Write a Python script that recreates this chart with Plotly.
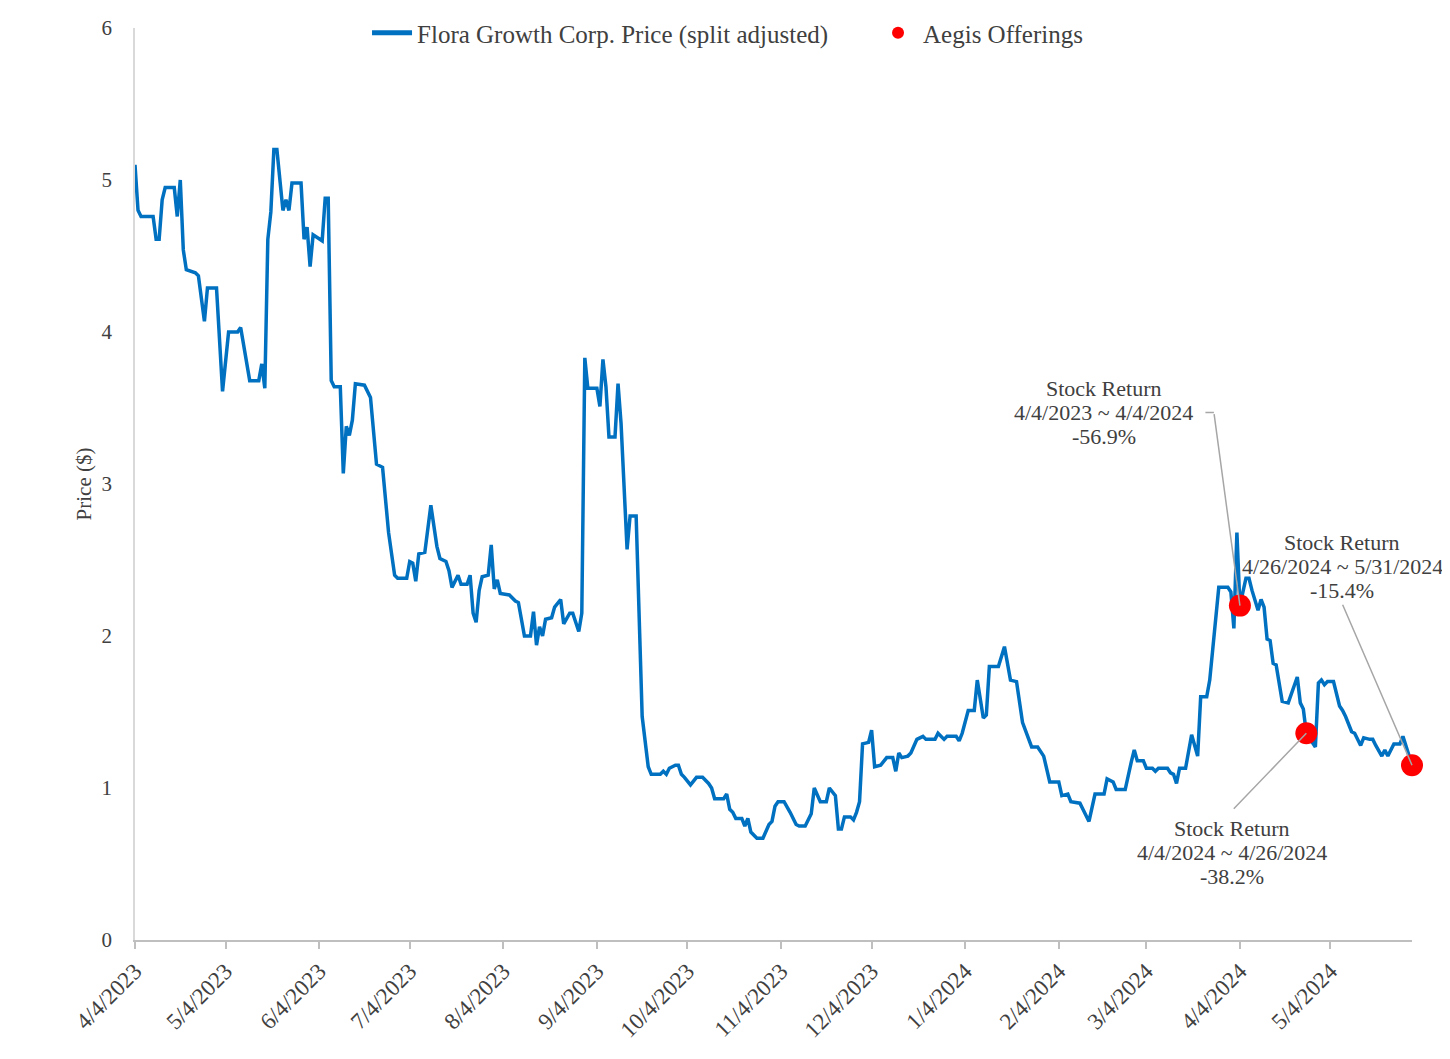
import plotly.graph_objects as go

# ---------------- data ----------------
dates = [
    "2023-04-04", "2023-04-05", "2023-04-06", "2023-04-10", "2023-04-11", "2023-04-12", "2023-04-13",
    "2023-04-14", "2023-04-17", "2023-04-18", "2023-04-19", "2023-04-20", "2023-04-21", "2023-04-24",
    "2023-04-25", "2023-04-27", "2023-04-28", "2023-05-01", "2023-05-03", "2023-05-05", "2023-05-08",
    "2023-05-09", "2023-05-12", "2023-05-15", "2023-05-16", "2023-05-17", "2023-05-18", "2023-05-19",
    "2023-05-20", "2023-05-21", "2023-05-23", "2023-05-24", "2023-05-25", "2023-05-26", "2023-05-29",
    "2023-05-30", "2023-05-31", "2023-06-01", "2023-06-02", "2023-06-05", "2023-06-06", "2023-06-07",
    "2023-06-08", "2023-06-09", "2023-06-11", "2023-06-12", "2023-06-13", "2023-06-14", "2023-06-15",
    "2023-06-16", "2023-06-19", "2023-06-21", "2023-06-23", "2023-06-25", "2023-06-27", "2023-06-29",
    "2023-06-30", "2023-07-03", "2023-07-04", "2023-07-05", "2023-07-06", "2023-07-07", "2023-07-09",
    "2023-07-10", "2023-07-11", "2023-07-13", "2023-07-14", "2023-07-16", "2023-07-17", "2023-07-18",
    "2023-07-20", "2023-07-21", "2023-07-23", "2023-07-24", "2023-07-25", "2023-07-26", "2023-07-27",
    "2023-07-28", "2023-07-30", "2023-07-31", "2023-08-01", "2023-08-02", "2023-08-03", "2023-08-06",
    "2023-08-08", "2023-08-09", "2023-08-11", "2023-08-13", "2023-08-14", "2023-08-15", "2023-08-16",
    "2023-08-17", "2023-08-18", "2023-08-20", "2023-08-21", "2023-08-23", "2023-08-24", "2023-08-26",
    "2023-08-27", "2023-08-29", "2023-08-30", "2023-08-31", "2023-09-01", "2023-09-04", "2023-09-05",
    "2023-09-06", "2023-09-07", "2023-09-08", "2023-09-10", "2023-09-11", "2023-09-12", "2023-09-14",
    "2023-09-15", "2023-09-17", "2023-09-19", "2023-09-21", "2023-09-22", "2023-09-25", "2023-09-26",
    "2023-09-27", "2023-09-28", "2023-09-30", "2023-10-01", "2023-10-02", "2023-10-03", "2023-10-05",
    "2023-10-07", "2023-10-09", "2023-10-11", "2023-10-12", "2023-10-13", "2023-10-16", "2023-10-17",
    "2023-10-18", "2023-10-19", "2023-10-20", "2023-10-22", "2023-10-23", "2023-10-24", "2023-10-25",
    "2023-10-27", "2023-10-29", "2023-10-31", "2023-11-01", "2023-11-02", "2023-11-03", "2023-11-05",
    "2023-11-07", "2023-11-09", "2023-11-10", "2023-11-12", "2023-11-14", "2023-11-15", "2023-11-17",
    "2023-11-19", "2023-11-20", "2023-11-22", "2023-11-23", "2023-11-24", "2023-11-25", "2023-11-27",
    "2023-11-28", "2023-11-29", "2023-11-30", "2023-12-01", "2023-12-03", "2023-12-04", "2023-12-05",
    "2023-12-07", "2023-12-09", "2023-12-11", "2023-12-12", "2023-12-13", "2023-12-14", "2023-12-16",
    "2023-12-17", "2023-12-19", "2023-12-20", "2023-12-21", "2023-12-22", "2023-12-25", "2023-12-26",
    "2023-12-28", "2023-12-29", "2024-01-01", "2024-01-02", "2024-01-03", "2024-01-05", "2024-01-07",
    "2024-01-08", "2024-01-10", "2024-01-11", "2024-01-12", "2024-01-15", "2024-01-17", "2024-01-19",
    "2024-01-21", "2024-01-23", "2024-01-24", "2024-01-26", "2024-01-28", "2024-01-30", "2024-02-01",
    "2024-02-04", "2024-02-05", "2024-02-07", "2024-02-08", "2024-02-11", "2024-02-12", "2024-02-14",
    "2024-02-16", "2024-02-19", "2024-02-20", "2024-02-22", "2024-02-23", "2024-02-26", "2024-02-28",
    "2024-02-29", "2024-03-01", "2024-03-03", "2024-03-04", "2024-03-06", "2024-03-07", "2024-03-08",
    "2024-03-11", "2024-03-12", "2024-03-13", "2024-03-14", "2024-03-15", "2024-03-17", "2024-03-19",
    "2024-03-20", "2024-03-21", "2024-03-22", "2024-03-24", "2024-03-25", "2024-03-27", "2024-03-28",
    "2024-03-31", "2024-04-01", "2024-04-02", "2024-04-03", "2024-04-04", "2024-04-06", "2024-04-07",
    "2024-04-08", "2024-04-10", "2024-04-11", "2024-04-12", "2024-04-13", "2024-04-14", "2024-04-15",
    "2024-04-16", "2024-04-18", "2024-04-20", "2024-04-22", "2024-04-23", "2024-04-24", "2024-04-25",
    "2024-04-26", "2024-04-29", "2024-04-30", "2024-05-01", "2024-05-02", "2024-05-03", "2024-05-05",
    "2024-05-07", "2024-05-08", "2024-05-09", "2024-05-11", "2024-05-12", "2024-05-14", "2024-05-15",
    "2024-05-17", "2024-05-18", "2024-05-19", "2024-05-21", "2024-05-22", "2024-05-23", "2024-05-25",
    "2024-05-27", "2024-05-28", "2024-05-29", "2024-05-30", "2024-05-31",
]

prices = [
    5.10, 4.80, 4.76, 4.76, 4.61, 4.61, 4.87,
    4.95, 4.95, 4.76, 5.00, 4.54, 4.41, 4.39,
    4.37, 4.07, 4.29, 4.29, 3.61, 4.00, 4.00,
    4.03, 3.68, 3.68, 3.79, 3.63, 4.61, 4.79,
    5.20, 5.20, 4.80, 4.87, 4.80, 4.98, 4.98,
    4.61, 4.69, 4.43, 4.64, 4.60, 4.88, 4.88,
    3.68, 3.64, 3.64, 3.07, 3.38, 3.32, 3.42,
    3.66, 3.65, 3.57, 3.13, 3.11, 2.68, 2.40,
    2.38, 2.38, 2.49, 2.48, 2.36, 2.54, 2.55,
    2.72, 2.86, 2.59, 2.51, 2.49, 2.43, 2.32,
    2.40, 2.34, 2.34, 2.40, 2.15, 2.09, 2.30,
    2.39, 2.40, 2.60, 2.31, 2.37, 2.28, 2.27,
    2.23, 2.22, 2.00, 2.00, 2.16, 1.94, 2.06,
    2.00, 2.11, 2.12, 2.19, 2.24, 2.08, 2.15,
    2.15, 2.03, 2.15, 3.83, 3.63, 3.63, 3.51,
    3.82, 3.64, 3.31, 3.31, 3.66, 3.40, 2.57,
    2.79, 2.79, 1.47, 1.14, 1.09, 1.09, 1.11,
    1.09, 1.13, 1.15, 1.15, 1.09, 1.07, 1.02,
    1.07, 1.07, 1.03, 1.00, 0.93, 0.93, 0.96,
    0.86, 0.84, 0.80, 0.80, 0.75, 0.80, 0.71,
    0.67, 0.67, 0.76, 0.78, 0.88, 0.91, 0.91,
    0.84, 0.76, 0.75, 0.75, 0.83, 1.00, 0.91,
    0.91, 1.00, 0.95, 0.73, 0.73, 0.81, 0.81,
    0.79, 0.84, 0.91, 1.29, 1.30, 1.38, 1.14,
    1.15, 1.20, 1.20, 1.11, 1.23, 1.20, 1.21,
    1.23, 1.32, 1.33, 1.34, 1.32, 1.32, 1.36,
    1.32, 1.34, 1.34, 1.31, 1.36, 1.51, 1.51,
    1.71, 1.46, 1.48, 1.80, 1.80, 1.93, 1.71,
    1.70, 1.43, 1.38, 1.27, 1.27, 1.21, 1.04,
    1.04, 0.95, 0.96, 0.91, 0.90, 0.86, 0.78,
    0.96, 0.96, 1.06, 1.04, 0.99, 0.99, 1.17,
    1.25, 1.18, 1.18, 1.13, 1.13, 1.11, 1.13,
    1.13, 1.10, 1.09, 1.03, 1.13, 1.13, 1.35,
    1.28, 1.21, 1.60, 1.60, 1.71, 2.15, 2.32,
    2.32, 2.29, 2.05, 2.68, 2.20, 2.38, 2.38,
    2.30, 2.17, 2.24, 2.19, 1.98, 1.97, 1.82,
    1.81, 1.57, 1.56, 1.67, 1.73, 1.56, 1.52,
    1.36, 1.27, 1.69, 1.71, 1.68, 1.70, 1.70,
    1.54, 1.51, 1.47, 1.37, 1.36, 1.28, 1.33,
    1.32, 1.32, 1.28, 1.21, 1.25, 1.21, 1.29,
    1.29, 1.34, 1.27, 1.21, 1.15,
]

offering_dates = ["2024-04-04", "2024-04-26", "2024-05-31"]
offering_prices = [2.20, 1.36, 1.15]

return_heading = "Stock Return"
return_periods = ["4/4/2023 ~ 4/4/2024", "4/4/2024 ~ 4/26/2024", "4/26/2024 ~ 5/31/2024"]
return_values = ["-56.9%", "-38.2%", "-15.4%"]

tick_dates = [
    "2023-04-04", "2023-05-04", "2023-06-04", "2023-07-04", "2023-08-04", "2023-09-04",
    "2023-10-04", "2023-11-04", "2023-12-04", "2024-01-04", "2024-02-04", "2024-03-04",
    "2024-04-04", "2024-05-04",
]

# ---------------- styling ----------------
FONT = "Liberation Serif"
TEXT_COLOR = "#404040"
LINE_BLUE = "#0070C0"
DOT_RED = "#FF0000"
LEADER = "#A6A6A6"

fig = go.Figure()
fig.add_trace(go.Scatter(
    x=dates, y=prices, mode="lines",
    name="Flora Growth Corp. Price (split adjusted)",
    line=dict(color=LINE_BLUE, width=3.5),
))
fig.add_trace(go.Scatter(
    x=offering_dates, y=offering_prices, mode="markers",
    name="Aegis Offerings",
    marker=dict(color=DOT_RED, size=22),
    cliponaxis=False,
))

# label block offsets (pixels) relative to each dot: x shift, y shift of the middle row
label_shift = [(-136, 193), (-74, -119), (-70, 199)]
ROW_GAP = 24
# leader line start offsets (pixels) relative to each dot
leader_start = [(-26, -193), (-74, 77), (-70, -162)]

annotations = []
for d, p, period, val, (sx, sy), (ax, ay) in zip(offering_dates, offering_prices,
                                                 return_periods, return_values,
                                                 label_shift, leader_start):
    for row_txt, dy in ((return_heading, ROW_GAP), (period, 0), (val, -ROW_GAP)):
        annotations.append(dict(
            x=d, y=p, xref="x", yref="y", text=row_txt, showarrow=False,
            xshift=sx, yshift=sy + dy, align="center",
            font=dict(family=FONT, size=22, color=TEXT_COLOR),
        ))
    annotations.append(dict(
        x=d, y=p, xref="x", yref="y", text="", showarrow=True,
        ax=ax, ay=ay, arrowhead=0, arrowwidth=1.5, arrowcolor=LEADER, standoff=0,
    ))
# small horizontal elbow of the first leader
annotations.append(dict(
    x=offering_dates[0], y=offering_prices[0], xref="x", yref="y", text="",
    showarrow=True, xshift=-26, yshift=193, ax=-10, ay=0,
    arrowhead=0, arrowwidth=1.5, arrowcolor=LEADER, standoff=0,
))

fig.update_layout(
    width=1442, height=1051,
    margin=dict(l=127, r=38, t=20, b=119, autoexpand=False),
    paper_bgcolor="white", plot_bgcolor="white",
    font=dict(family=FONT, size=20, color=TEXT_COLOR),
    showlegend=True,
    legend=dict(
        orientation="h",
        x=0.1817, xanchor="left",
        y=0.9945, yanchor="middle",
        font=dict(family=FONT, size=25, color=TEXT_COLOR),
        bgcolor="rgba(0,0,0,0)", itemsizing="constant", itemwidth=40,
        entrywidth=451, entrywidthmode="pixels",
    ),
    annotations=annotations,
    xaxis=dict(
        type="date", range=["2023-04-04", "2024-05-31"],
        tickvals=tick_dates, tickformat="%-m/%-d/%Y", tickangle=-45,
        ticks="outside", ticklen=7, tickwidth=1.5, tickcolor="#BFBFBF",
        showline=True, linecolor="#BFBFBF", linewidth=1.5,
        showgrid=False, zeroline=False,
        tickfont=dict(family=FONT, size=23, color=TEXT_COLOR),
    ),
    yaxis=dict(
        range=[0, 6], dtick=1, tick0=0,
        showline=True, linecolor="#D9D9D9", linewidth=1.5,
        showgrid=False, zeroline=False, ticks="",
        ticklabelstandoff=17,
        tickfont=dict(family=FONT, size=21, color=TEXT_COLOR),
        title=dict(text="Price ($)", standoff=4,
                   font=dict(family=FONT, size=21, color=TEXT_COLOR)),
    ),
)

fig.write_html("out.html")
